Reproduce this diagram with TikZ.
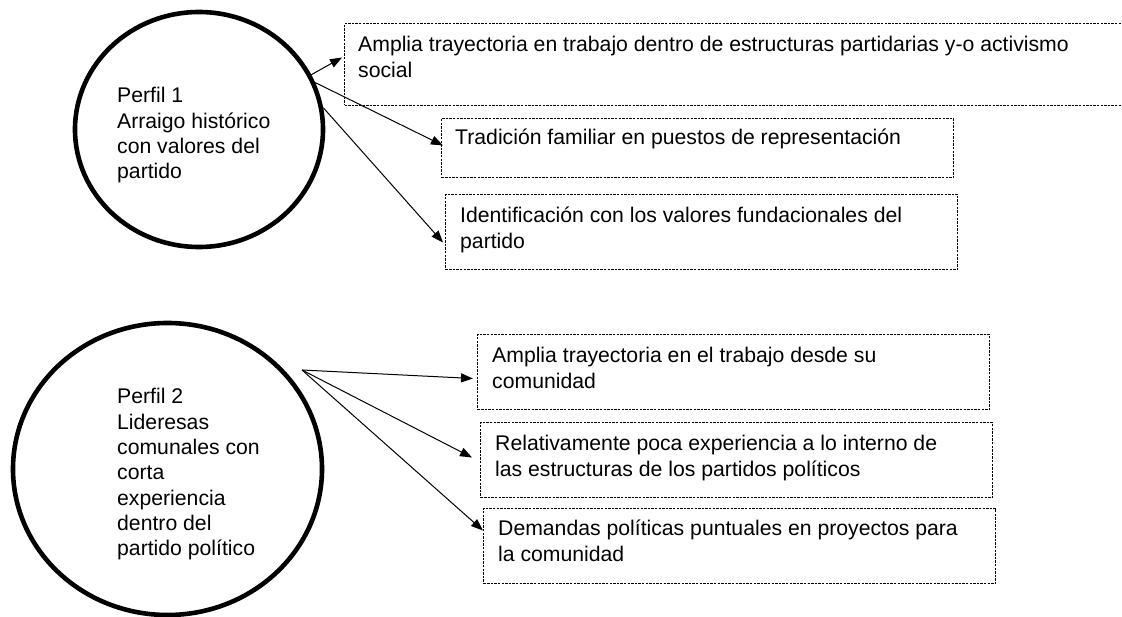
\documentclass[tikz,border=0pt]{standalone}
\usepackage{fontspec}
\setmainfont{Liberation Sans}
\usetikzlibrary{arrows.meta,calc,shapes.geometric}
\begin{document}
\begin{tikzpicture}[x=1pt,y=-1pt,
  every node/.style={font=\fontsize{21.2}{25.3}\selectfont},
  perfil/.style={ellipse,draw,line width=4.6pt,inner sep=0pt},
  dbox/.style={draw,line width=1pt,dash pattern=on 2.4pt off 1.2pt,anchor=north west,inner sep=0pt},
  txt/.style={anchor=north west,inner sep=0pt,align=left,text=black},
  arr/.style={line width=1pt,-{Triangle[length=12pt,width=9pt]}}]
\useasboundingbox (0,0) rectangle (1122,617);
\clip (0,0) rectangle (1122,617);
% Profile 1
\node[perfil,minimum width=248pt,minimum height=235pt] (p1) at (199,129.5) {};
\node[txt] (p1t) at (117,85) {\strut Perfil 1\\Arraigo histórico\\con valores del\\partido};
\node[dbox,minimum width=790pt,minimum height=82pt] (b1) at (344,23) {};
\node[txt] (b1t) at (358,34) {\strut Amplia trayectoria en trabajo dentro de estructuras partidarias y-o activismo\\social};
\node[dbox,minimum width=512pt,minimum height=59pt] (b2) at (441,118) {};
\node[txt] (b2t) at (455,127) {\strut Tradición familiar en puestos de representación};
\node[dbox,minimum width=512pt,minimum height=75pt] (b3) at (445,194) {};
\node[txt] (b3t) at (460,205) {\strut Identificación con los valores fundacionales del\\partido};
\draw[arr] (p1.26) -- ($(b1.west)+(-2,-7)$);
\draw[arr] (p1.22) -- ($(b2.west)+(2,-2.5)$);
\draw[arr] (p1.10) -- ($(b3.west)+(-2,10.5)$);
% Profile 2
\node[perfil,minimum width=309pt,minimum height=292pt] (p2) at (167.5,469) {};
\node[txt] (p2t) at (117,386) {\strut Perfil 2\\Lideresas\\comunales con\\corta\\experiencia\\dentro del\\partido político};
\coordinate (hub) at (302,370);
\node[dbox,minimum width=512pt,minimum height=75pt] (bA) at (477,334) {};
\node[txt] (bAt) at (492,345) {\strut Amplia trayectoria en el trabajo desde su\\comunidad};
\node[dbox,minimum width=512pt,minimum height=75pt] (bB) at (480,422) {};
\node[txt] (bBt) at (495,433) {\strut Relativamente poca experiencia a lo interno de\\las estructuras de los partidos políticos};
\node[dbox,minimum width=512pt,minimum height=75pt] (bC) at (483,508) {};
\node[txt] (bCt) at (498,518) {\strut Demandas políticas puntuales en proyectos para\\la comunidad};
\draw[arr] (hub) -- ($(bA.west)+(-4,6.5)$);
\draw[arr] (hub) -- ($(bB.west)+(-8,-2.5)$);
\draw[arr] (hub) -- ($(bC.west)+(0,-15.5)$);
\end{tikzpicture}
\end{document}
